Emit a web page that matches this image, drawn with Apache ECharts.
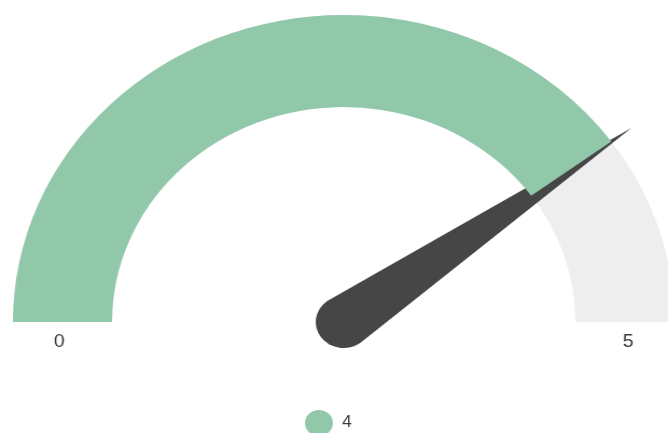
<!DOCTYPE html>
<html>
<head>
<meta charset="utf-8">
<script src="https://cdn.jsdelivr.net/npm/echarts@6/dist/echarts.min.js"></script>
<style>
html,body{margin:0;padding:0;overflow:hidden;background:#fff;}
#chart{width:620px;height:433px;transform:scaleX(1.07742);transform-origin:0 0;}
</style>
</head>
<body>
<div id="chart"></div>
<script>
var gaugeMin = 0;
var gaugeMax = 5;
var seriesName = '4';
var pointValues = [4];

var green = '#92c8aa';
var chart = echarts.init(document.getElementById('chart'), null, {renderer: 'canvas'});
var data = pointValues.map(function (v) { return {name: seriesName, value: v}; });

chart.setOption({
  animation: false,
  legend: {
    data: [seriesName],
    left: 283,
    top: 410,
    padding: 0,
    icon: 'circle',
    itemWidth: 33,
    itemHeight: 26,
    itemGap: 10,
    textStyle: {color: '#3a3a3a', fontSize: 16, fontFamily: 'Liberation Sans'}
  },
  series: [{
    type: 'gauge',
    name: seriesName,
    center: [319, 322],
    radius: 307,
    startAngle: 180,
    endAngle: 0,
    min: gaugeMin,
    max: gaugeMax,
    splitNumber: 1,
    itemStyle: {color: green},
    progress: {show: true, width: 92, roundCap: false, itemStyle: {color: green}},
    axisLine: {lineStyle: {width: 92, color: [[1, '#eeeeee']]}},
    splitLine: {show: false},
    axisTick: {show: false},
    axisLabel: {
      show: true,
      distance: 18,
      align: 'center',
      verticalAlign: 'middle',
      lineHeight: 20,
      formatter: function (v) { return '\n\n' + v; },
      color: '#3a3a3a',
      fontSize: 18,
      fontFamily: 'Liberation Sans'
    },
    pointer: {
      show: true,
      icon: 'path://M26,0 L52,330 A26,26 0 0 1 0,330 Z',
      length: 356,
      width: 52,
      offsetCenter: [0, 26],
      itemStyle: {color: '#464646'}
    },
    anchor: {show: false},
    title: {show: false},
    detail: {show: false},
    data: data
  }]
});
</script>
</body>
</html>
